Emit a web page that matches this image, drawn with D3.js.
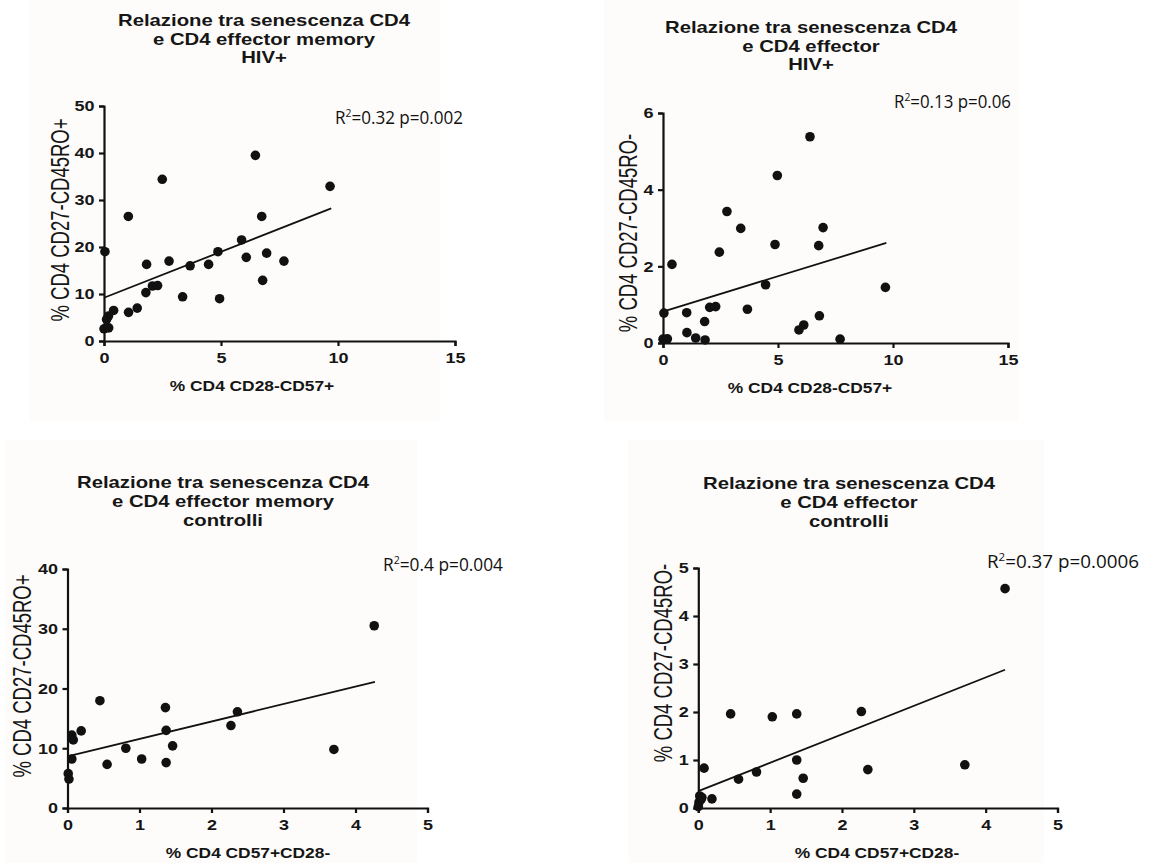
<!DOCTYPE html>
<html><head><meta charset="utf-8">
<script src="https://cdn.jsdelivr.net/npm/d3@7"></script>
<style>html,body{margin:0;padding:0;background:#fff;}svg{display:block;}</style>
</head><body>
<script>
// ---------- DATA ----------
const titleLines1 = ["Relazione tra senescenza CD4", "e CD4 effector memory", "HIV+"];
const titleLines2 = ["Relazione tra senescenza CD4", "e CD4 effector", "HIV+"];
const titleLines3 = ["Relazione tra senescenza CD4", "e CD4 effector memory", "controlli"];
const titleLines4 = ["Relazione tra senescenza CD4", "e CD4 effector", "controlli"];
const xTitleHiv = "% CD4 CD28-CD57+";
const xTitleCtrl = "% CD4 CD57+CD28-";
const yTitleEm = "% CD4 CD27-CD45RO+";
const yTitleEff = "% CD4 CD27-CD45RO-";
const stat1 = ["R", "2", "=0.32 p=0.002"];
const stat2 = ["R", "2", "=0.13 p=0.06"];
const stat3 = ["R", "2", "=0.4 p=0.004"];
const stat4 = ["R", "2", "=0.37 p=0.0006"];

const xTicksHiv = [0, 5, 10, 15];
const xTicksCtrl = [0, 1, 2, 3, 4, 5];
const yTicks1 = [0, 10, 20, 30, 40, 50];
const yTicks2 = [0, 2, 4, 6];
const yTicks3 = [0, 10, 20, 30, 40];
const yTicks4 = [0, 1, 2, 3, 4, 5];

// HIV+ effector memory
const hivEmX = [0.04, 1.04, 2.49, 6.47, 9.66, 6.74, 5.88, 4.87, 6.08, 6.95, 7.69, 6.78, 4.47, 3.68, 2.78, 1.82, 1.79, 2.07, 2.29, 3.36, 4.94, 1.05, 1.42, 0.41, 0.19, 0.11, 0.0, 0.2];
const hivEmY = [19.0, 26.5, 34.4, 39.5, 32.9, 26.5, 21.5, 19.0, 17.8, 18.7, 17.0, 12.9, 16.3, 16.0, 17.0, 16.3, 10.3, 11.7, 11.8, 9.4, 9.0, 6.1, 7.0, 6.5, 5.3, 4.6, 2.6, 2.8];
const fitHivEm = [[0, 9.2], [9.71, 28.2]];

// HIV+ effector
const hivEffX = [6.39, 4.97, 2.78, 3.38, 6.96, 4.87, 6.77, 2.45, 0.39, 4.46, 9.67, 0.04, 1.03, 2.03, 2.29, 3.67, 1.81, 6.80, 6.12, 5.91, 1.04, 1.42, 1.83, 7.70, 0.0, 0.19];
const hivEffY = [5.38, 4.37, 3.43, 2.99, 3.01, 2.57, 2.54, 2.37, 2.05, 1.52, 1.45, 0.78, 0.79, 0.93, 0.95, 0.88, 0.56, 0.71, 0.47, 0.34, 0.27, 0.13, 0.08, 0.10, 0.10, 0.11];
const fitHivEff = [[0, 0.82], [9.71, 2.61]];

// controlli effector memory
const ctrlEmX = [4.26, 0.45, 1.36, 2.36, 2.27, 1.37, 0.19, 0.06, 0.08, 1.46, 0.81, 3.70, 1.03, 0.06, 1.37, 0.55, 0.01, 0.02];
const ctrlEmY = [30.5, 17.96, 16.8, 16.1, 13.8, 13.0, 12.9, 12.2, 11.4, 10.4, 10.0, 9.8, 8.2, 8.2, 7.6, 7.3, 5.75, 4.85];
const fitCtrlEm = [[0, 8.65], [4.27, 21.1]];

// controlli effector
const ctrlEffX = [0.45, 1.03, 1.37, 2.27, 1.37, 0.08, 2.36, 0.81, 0.56, 1.46, 1.37, 0.19, 0.02, 0.05, 0.01, 0.0, 0.04, 4.27, 3.71];
const ctrlEffY = [1.96, 1.90, 1.96, 2.01, 1.0, 0.83, 0.80, 0.75, 0.60, 0.62, 0.29, 0.19, 0.25, 0.22, 0.12, 0.03, 0.18, 4.57, 0.90];
const fitCtrlEff = [[0, 0.35], [4.27, 2.88]];

// ---------- LAYOUT ----------
const W = 1152, H = 863;
const FONT = "'Liberation Sans', Arial, sans-serif";
const NOTE_FONT = "'Open Sans', 'Liberation Sans', sans-serif";
const INK = "#161616";

const panels = [
  {bg:[30,0,410,422], x0:104, x1:455, y0:341, y1:106, xd:[0,15], yd:[0,50], xt:xTicksHiv, yt:yTicks1,
   xs:hivEmX, ys:hivEmY, fit:fitHivEm, title:titleLines1, tcx:264, tby:26, tls:18.7,
   xTitle:xTitleHiv, xtx:252, xty:391, yTitle:yTitleEm, ytx:60, yty:220,
   stat:stat1, sx:335, sy:124, sw:128},
  {bg:[604,0,414,422], x0:663, x1:1008, y0:343, y1:113, xd:[0,15], yd:[0,6], xt:xTicksHiv, yt:yTicks2,
   xs:hivEffX, ys:hivEffY, fit:fitHivEff, title:titleLines2, tcx:811, tby:33, tls:18.7,
   xTitle:xTitleHiv, xtx:810, xty:393, yTitle:yTitleEff, ytx:628, yty:233,
   stat:stat2, sx:894, sy:108, sw:117},
  {bg:[5,440,412,423], x0:67.5, x1:427.5, y0:808, y1:569, xd:[0,5], yd:[0,40], xt:xTicksCtrl, yt:yTicks3,
   xs:ctrlEmX, ys:ctrlEmY, fit:fitCtrlEm, title:titleLines3, tcx:223, tby:488, tls:19,
   xTitle:xTitleCtrl, xtx:248, xty:858, yTitle:yTitleEm, ytx:22.5, yty:676,
   stat:stat3, sx:383, sy:571, sw:120},
  {bg:[628,440,416,423], x0:698.3, x1:1057.5, y0:808, y1:568, xd:[0,5], yd:[0,5], xt:xTicksCtrl, yt:yTicks4,
   xs:ctrlEffX, ys:ctrlEffY, fit:fitCtrlEff, title:titleLines4, tcx:849, tby:489, tls:19,
   xTitle:xTitleCtrl, xtx:877, xty:858, yTitle:yTitleEff, ytx:663, yty:663,
   stat:stat4, sx:987, sy:568, sw:152}
];

const svg = d3.select("body").append("svg").attr("width", W).attr("height", H);
svg.append("rect").attr("width", W).attr("height", H).attr("fill", "#ffffff");

panels.forEach(p => {
  const g = svg.append("g");
  g.append("rect").attr("x", p.bg[0]).attr("y", p.bg[1]).attr("width", p.bg[2]).attr("height", p.bg[3])
    .attr("fill", "#fdfcfa");

  const x = d3.scaleLinear().domain(p.xd).range([p.x0, p.x1]);
  const y = d3.scaleLinear().domain(p.yd).range([p.y0, p.y1]);

  // title
  p.title.forEach((t, i) => {
    g.append("text")
      .attr("transform", `translate(${p.tcx},${p.tby + i * p.tls}) scale(1.23,1)`)
      .attr("text-anchor", "middle").attr("font-family", FONT).attr("font-size", 16.5)
      .attr("font-weight", "bold").attr("fill", INK).text(t);
  });

  // axes
  const xa = g.append("g").attr("transform", `translate(0,${p.y0})`)
    .call(d3.axisBottom(x).tickValues(p.xt).tickSize(5).tickPadding(6).tickFormat(d3.format("d")));
  const ya = g.append("g").attr("transform", `translate(${p.x0},0)`)
    .call(d3.axisLeft(y).tickValues(p.yt).tickSize(5).tickPadding(3).tickFormat(d3.format("d")));
  [xa, ya].forEach(a => {
    a.select(".domain").attr("stroke", "#111").attr("stroke-width", 2.2);
    a.selectAll(".tick line").attr("stroke", "#111").attr("stroke-width", 2.2);
    a.selectAll(".tick text").attr("font-family", FONT).attr("font-size", 15)
      .attr("font-weight", "bold").attr("fill", INK).attr("transform", "scale(1.2,1)");
  });

  // axis titles
  g.append("text")
    .attr("transform", `translate(${p.xtx},${p.xty}) scale(1.12,1)`)
    .attr("text-anchor", "middle").attr("font-family", FONT).attr("font-size", 15.5)
    .attr("font-weight", "bold").attr("fill", INK).text(p.xTitle);
  g.append("text")
    .attr("transform", `translate(${p.ytx},${p.yty}) scale(1.4,1) rotate(-90)`)
    .attr("text-anchor", "middle").attr("dominant-baseline", "central")
    .attr("font-family", FONT).attr("font-size", 18.5).attr("fill", INK).text(p.yTitle);

  // regression line
  g.append("path").datum(p.fit)
    .attr("d", d3.line().x(d => x(d[0])).y(d => y(d[1])))
    .attr("fill", "none").attr("stroke", "#111").attr("stroke-width", 1.8);

  // points
  g.selectAll("circle.pt").data(p.xs.map((v, i) => [v, p.ys[i]])).join("circle")
    .attr("class", "pt").attr("cx", d => x(d[0])).attr("cy", d => y(d[1]))
    .attr("r", 4.8).attr("fill", "#111");

  // statistics annotation
  const st = g.append("text").attr("x", p.sx).attr("y", p.sy)
    .attr("font-family", NOTE_FONT).attr("font-size", 18).attr("fill", "#111")
    .attr("textLength", p.sw).attr("lengthAdjust", "spacingAndGlyphs");
  st.append("tspan").text(p.stat[0]);
  st.append("tspan").attr("font-size", 11).attr("dy", -7).text(p.stat[1]);
  st.append("tspan").attr("dy", 7).text(p.stat[2]);
});
</script>
</body></html>
